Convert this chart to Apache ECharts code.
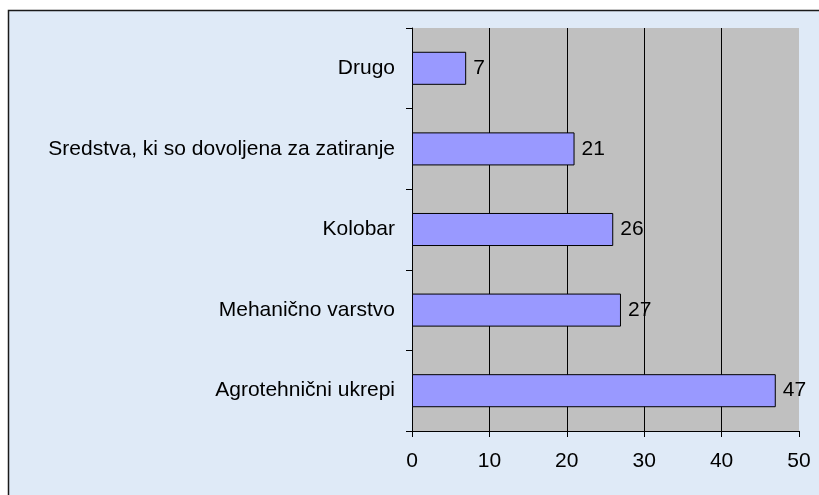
<!DOCTYPE html>
<html>
<head>
<meta charset="utf-8">
<script src="https://cdn.jsdelivr.net/npm/echarts@6/dist/echarts.min.js"></script>
<style>
html,body{margin:0;padding:0;background:#fff;}
#chart{width:819px;height:495px;}
</style>
</head>
<body>
<div id="chart"></div>
<script>
var categories = ['Agrotehnični ukrepi', 'Mehanično varstvo', 'Kolobar', 'Sredstva, ki so dovoljena za zatiranje', 'Drugo'];
var values = [47, 27, 26, 21, 7];
var xTicks = [0, 10, 20, 30, 40, 50];

var chart = echarts.init(document.getElementById('chart'));
chart.setOption({
  backgroundColor: '#ffffff',
  animation: false,
  textStyle: { fontFamily: 'Liberation Sans, Arial, sans-serif' },
  graphic: [{
    type: 'rect',
    z: -100,
    silent: true,
    shape: { x: 8.5, y: 10.5, width: 900, height: 600 },
    style: { fill: '#dfeaf7', stroke: '#1a1a1a', lineWidth: 1.5 }
  }],
  grid: {
    left: 412, right: 20, top: 28, bottom: 64,
    show: true, backgroundColor: '#c0c0c0', borderWidth: 0
  },
  xAxis: {
    type: 'value',
    min: xTicks[0], max: xTicks[xTicks.length - 1], interval: 10,
    axisLine: { show: true, lineStyle: { color: '#000', width: 1 } },
    axisTick: { show: true, length: 6, lineStyle: { color: '#000' } },
    axisLabel: { color: '#000', fontSize: 21, margin: 20 },
    splitLine: { show: true, showMaxLine: false, lineStyle: { color: '#000', width: 1 } }
  },
  yAxis: {
    type: 'category',
    data: categories,
    axisLine: { show: true, lineStyle: { color: '#000', width: 1 } },
    axisTick: { show: true, length: 6, lineStyle: { color: '#000' } },
    axisLabel: { color: '#000', fontSize: 21, margin: 17 },
    splitLine: { show: false }
  },
  series: [{
    type: 'bar',
    data: values,
    barCategoryGap: '59%',
    itemStyle: { color: '#9999ff', borderColor: '#000', borderWidth: 1 },
    label: { show: true, position: 'right', distance: 7, color: '#000', fontSize: 21 }
  }]
});
</script>
</body>
</html>
